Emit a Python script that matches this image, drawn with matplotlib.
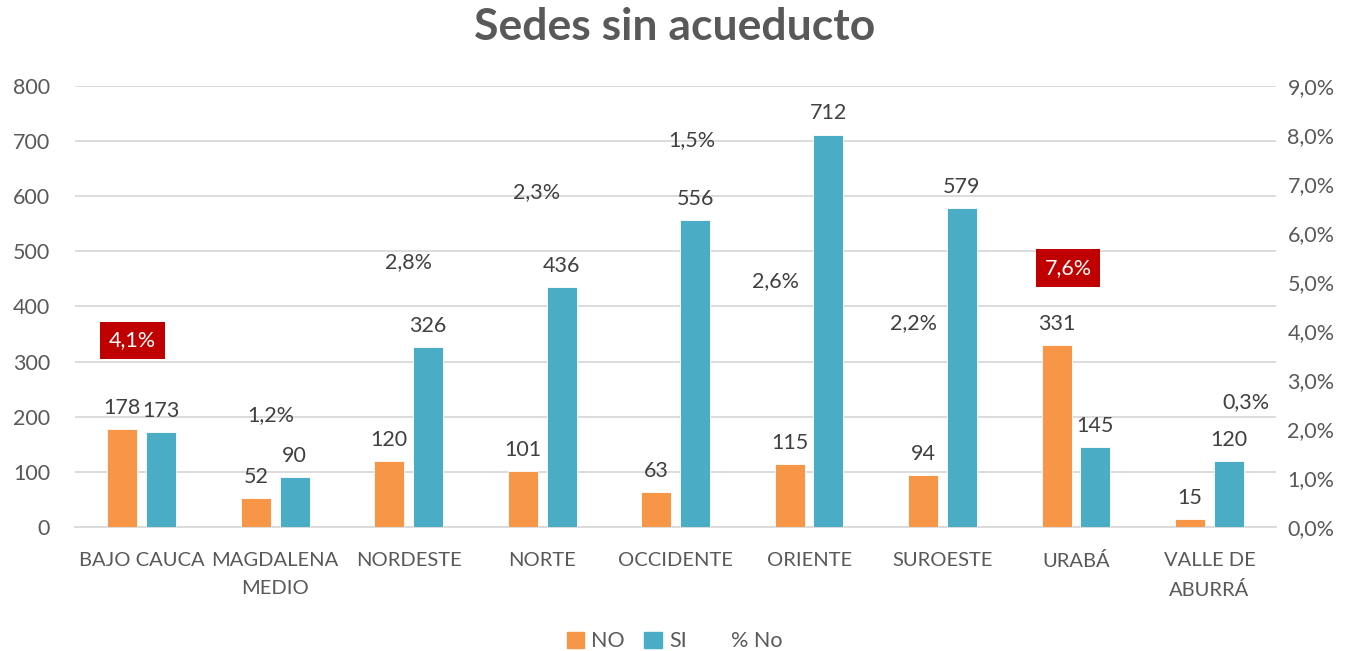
import matplotlib
matplotlib.use("Agg")
import matplotlib.pyplot as plt
from matplotlib.lines import Line2D
from matplotlib.patches import Patch
import numpy as np

plt.rcParams['font.family'] = ['Lato', 'DejaVu Sans']

regiones = ["BAJO CAUCA", "MAGDALENA\nMEDIO", "NORDESTE", "NORTE", "OCCIDENTE",
            "ORIENTE", "SUROESTE", "URABÁ", "VALLE DE\nABURRÁ"]
sedes_no = [178, 52, 120, 101, 63, 115, 94, 331, 15]
sedes_si = [173, 90, 326, 436, 556, 712, 579, 145, 120]
pct_no = [4.1, 1.2, 2.8, 2.3, 1.5, 2.6, 2.2, 7.6, 0.3]
destacar = [True, False, False, False, False, False, False, True, False]

# where excel left the % labels (x offset from group center, y on left axis)
pct_dx = [-0.07, -0.03, 0.0, -0.04, 0.12, -0.25, -0.22, -0.06, 0.27]
pct_y = [339, 203, 481, 608, 702, 446, 370, 470, 227]

c_no = "#F79646"
c_si = "#4BACC6"
c_txt = "#404040"
c_axis = "#595959"
fs = 15.5

fig = plt.figure(figsize=(13.49, 6.51), dpi=100)
ax = fig.add_axes([0.0556, 0.1905, 0.8905, 0.6774])
ax2 = ax.twinx()

x = np.arange(len(regiones))
w = 0.225
off = 0.145
b1 = ax.bar(x - off, sedes_no, w, color=c_no, edgecolor="white", linewidth=0.6, zorder=3)
b2 = ax.bar(x + off, sedes_si, w, color=c_si, edgecolor="white", linewidth=0.6, zorder=3)

for bars, vals in ((b1, sedes_no), (b2, sedes_si)):
    for r, v in zip(bars, vals):
        ax.text(r.get_x() + r.get_width() / 2, v + 20, str(v), ha="center", va="bottom",
                fontsize=fs, color=c_txt)

for i, p in enumerate(pct_no):
    lab = ("%.1f%%" % p).replace(".", ",")
    if destacar[i]:
        ax.text(x[i] + pct_dx[i], pct_y[i], lab, ha="center", va="center", fontsize=fs,
                color="white", zorder=5,
                bbox=dict(boxstyle="square,pad=0.4", fc="#C00000", ec="none"))
    else:
        ax.text(x[i] + pct_dx[i], pct_y[i], lab, ha="center", va="center", fontsize=fs,
                color=c_txt, zorder=5)

ax2.plot(x, pct_no, linestyle="none", marker=None)

ax.set_xlim(-0.5, len(regiones) - 0.5)
ax.set_ylim(0, 800)
ax.set_yticks(range(0, 801, 100))
ax2.set_ylim(0, 9)
ax2.set_yticks(range(0, 10))
ax2.set_yticklabels([("%.1f%%" % t).replace(".", ",") for t in range(0, 10)])

ax.set_xticks(x)
ax.set_xticklabels(regiones, fontsize=14.5, color=c_axis, linespacing=1.8)
ax.tick_params(axis="y", labelsize=fs, labelcolor=c_axis, length=0, pad=18)
ax.tick_params(axis="x", length=0, pad=18)
ax2.tick_params(axis="y", labelsize=fs, labelcolor=c_axis, length=0, pad=8)

ax.grid(axis="y", color="#D9D9D9", linewidth=1.3, zorder=0)
ax.set_axisbelow(True)
for a in (ax, ax2):
    for s in a.spines.values():
        s.set_visible(False)
ax.spines["bottom"].set_visible(True)
ax.spines["bottom"].set_color("#D9D9D9")
ax.spines["bottom"].set_linewidth(1.3)

fig.text(0.5, 0.958, "Sedes sin acueducto", ha="center", va="center", fontsize=32,
         fontweight="bold", color=c_axis)

handles = [Patch(color=c_no, label="NO"), Patch(color=c_si, label="SI"),
           Line2D([], [], linestyle="none", label="% No")]
fig.legend(handles=handles, loc="center", bbox_to_anchor=(0.5, 0.015), ncol=3,
           frameon=False, fontsize=fs, handlelength=0.8, handleheight=0.8,
           handletextpad=0.35, columnspacing=0.9, labelcolor=c_axis)

fig.savefig("out.png", dpi=100)
